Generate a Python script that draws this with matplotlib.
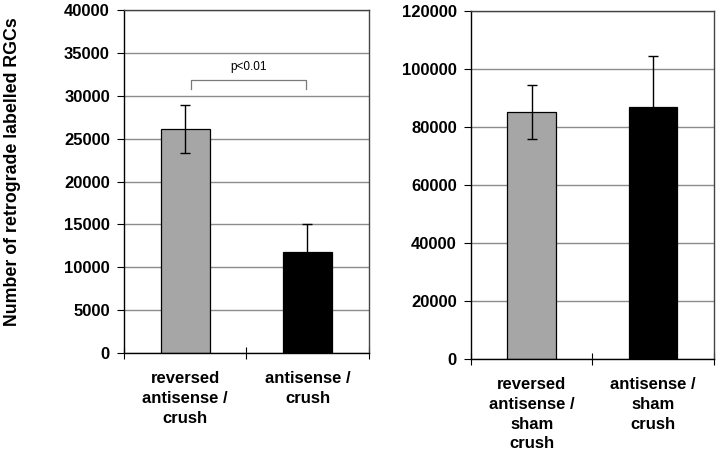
import numpy as np
import matplotlib
matplotlib.use('Agg')
import matplotlib.pyplot as plt

plt.rcParams['font.family'] = ['Liberation Sans', 'DejaVu Sans']

# left panel: crush
crush_labels = ['reversed\nantisense /\ncrush', 'antisense /\ncrush']
crush_means = [26100, 11800]
crush_err = [2800, 3300]

# right panel: sham crush
sham_labels = ['reversed\nantisense /\nsham\ncrush', 'antisense /\nsham\ncrush']
sham_means = [85000, 87000]
sham_err = [9300, 17500]

bar_colors = ['#a6a6a6', '#000000']
ylabel = 'Number of retrograde labelled RGCs'


def draw_panel(ax, labels, means, errs, ymax, step):
    x = np.arange(len(means))
    ax.bar(x, means, width=0.4, color=bar_colors, edgecolor='black', linewidth=0.9, zorder=2)
    ax.errorbar(x, means, yerr=errs, fmt='none', ecolor='black', elinewidth=1.0,
                capsize=3.5, capthick=1.0, zorder=3)
    ax.set_xlim(-0.5, 1.5)
    ax.set_ylim(0, ymax)
    ax.set_yticks(np.arange(0, ymax + 1, step))
    ax.yaxis.grid(True, color='#8c8c8c', linewidth=1.0, zorder=0)
    ax.set_axisbelow(True)
    ax.set_xticks(x)
    ax.set_xticklabels(labels, fontsize=12, fontweight='bold', linespacing=1.4)
    ax.tick_params(axis='x', which='major', length=0, pad=13)
    ax.set_xticks([-0.5, 0.5, 1.5], minor=True)
    ax.tick_params(axis='x', which='minor', length=9, direction='inout', width=0.8)
    ax.tick_params(axis='y', length=5, width=0.8, labelsize=12, pad=5)
    for lab in ax.get_yticklabels():
        lab.set_fontweight('bold')
    for side in ['top', 'right']:
        ax.spines[side].set_color('#444444')
        ax.spines[side].set_linewidth(1.0)
    for side in ['left', 'bottom']:
        ax.spines[side].set_linewidth(1.0)


fig = plt.figure(figsize=(7.2, 4.55), dpi=100)
ax1 = fig.add_axes([0.172, 0.224, 0.340, 0.754])
ax2 = fig.add_axes([0.654, 0.211, 0.3375, 0.765])

draw_panel(ax1, crush_labels, crush_means, crush_err, 40000, 5000)
draw_panel(ax2, sham_labels, sham_means, sham_err, 120000, 20000)

# significance bracket
bx = [0.05, 0.05, 0.99, 0.99]
by = [30800, 31800, 31800, 30800]
ax1.plot(bx, by, color='#7a7a7a', linewidth=0.9, zorder=3)
ax1.text(0.52, 32700, 'p<0.01', ha='center', va='bottom', fontsize=8.5)

fig.text(0.018, 0.622, ylabel, rotation=90, ha='center', va='center',
         fontsize=12.8, fontweight='bold')

fig.savefig('out.png', dpi=100)
